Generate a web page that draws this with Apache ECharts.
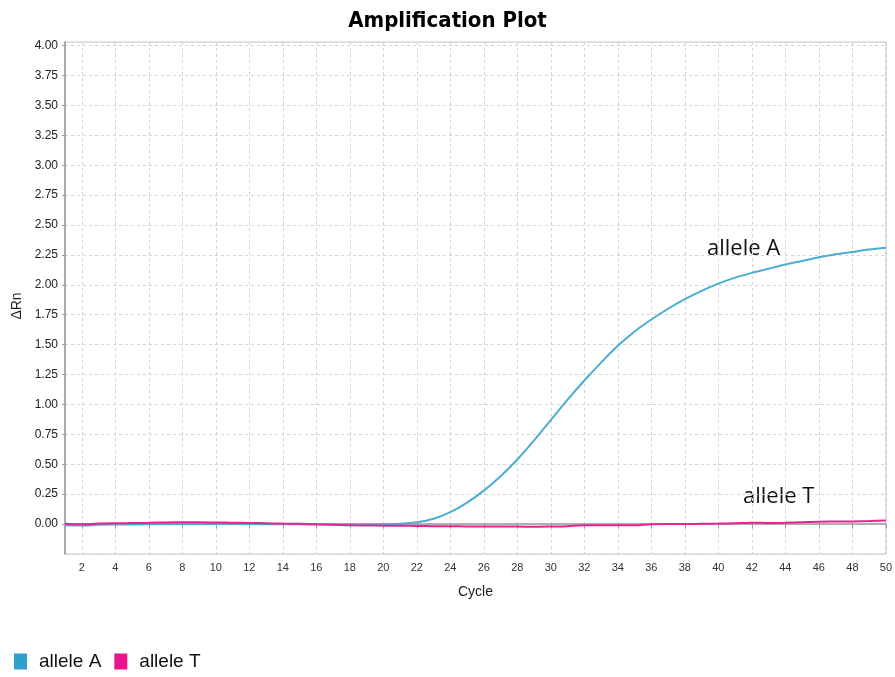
<!DOCTYPE html>
<html><head><meta charset="utf-8">
<script src="https://cdn.jsdelivr.net/npm/echarts@6/dist/echarts.min.js"></script>
<style>html,body{margin:0;padding:0;background:#fff}#c{width:895px;height:677px}</style>
</head><body><div id="c"></div>
<script>
const cycles = [];
for (let i = 1; i <= 50; i++) cycles.push(String(i));
const alleleA = [-0.010,-0.012,-0.006,-0.004,-0.003,-0.002,0.000,0.000,0.000,0.000,
  0.000,0.000,-0.001,-0.002,-0.002,-0.003,-0.004,-0.004,-0.003,-0.002,
  0.003,0.015,0.045,0.100,0.180,0.280,0.400,0.540,0.700,0.870,
  1.040,1.200,1.350,1.490,1.610,1.710,1.800,1.880,1.950,2.010,
  2.060,2.100,2.135,2.170,2.200,2.230,2.255,2.275,2.295,2.310];
const alleleT = [0.003,-0.002,0.004,0.007,0.009,0.011,0.014,0.015,0.015,0.013,
  0.012,0.010,0.007,0.004,0.002,-0.002,-0.005,-0.010,-0.012,-0.013,
  -0.014,-0.015,-0.017,-0.018,-0.020,-0.021,-0.021,-0.021,-0.022,-0.020,
  -0.017,-0.010,-0.010,-0.010,-0.010,-0.002,0.000,0.000,0.002,0.004,
  0.008,0.012,0.010,0.012,0.016,0.020,0.021,0.022,0.025,0.030];
const seriesNames = ['allele A', 'allele T'];
const lineColors = ['#4aaed2', '#e8238f'];
const legendColors = ['#2f9fcb', '#ec148c'];
const yMin = -0.25, yMax = 4.03, yStep = 0.25;

const even = (idx) => idx % 2 === 1;
const chart = echarts.init(document.getElementById('c'));
chart.setOption({
  animation: false,
  title: {
    text: 'Amplification Plot', left: 'center', top: 5,
    textStyle: { fontFamily: '"DejaVu Sans Condensed","DejaVu Sans"', fontWeight: 'bold', fontSize: 22, color: '#000' }
  },
  grid: { left: 65, right: 7, top: 42, bottom: 123, show: true, borderColor: '#c4c4c4', borderWidth: 1 },
  legend: {
    left: 14, top: 652, padding: 0, itemWidth: 13, itemHeight: 16, itemGap: 13, icon: 'rect',
    textStyle: { fontFamily: '"Liberation Sans",Arial', fontSize: 19, color: '#111', padding: [0, 0, 0, 7] },
    data: seriesNames.map((n, i) => ({ name: n, itemStyle: { color: legendColors[i] } }))
  },
  xAxis: {
    type: 'category', data: cycles, boundaryGap: false,
    name: 'Cycle', nameLocation: 'middle', nameGap: 31,
    nameTextStyle: { fontFamily: '"Liberation Sans",Arial', fontSize: 14, color: '#222' },
    axisLine: { lineStyle: { color: '#999', width: 1.5 } },
    axisTick: { interval: even, length: 4, lineStyle: { color: '#999' } },
    axisLabel: { interval: even, fontFamily: '"Liberation Sans",Arial', fontSize: 11, color: '#333', margin: 8 },
    splitLine: { show: true, interval: even, lineStyle: { color: '#d4d4d4', type: [3, 3] } }
  },
  yAxis: {
    type: 'value', min: yMin, max: yMax, interval: yStep,
    name: 'ΔRn', nameLocation: 'middle', nameGap: 41, nameRotate: 90,
    nameTextStyle: { fontFamily: '"Liberation Sans",Arial', fontSize: 14, color: '#222', padding: [0, 16, 0, 0] },
    axisLine: { show: true, lineStyle: { color: '#999', width: 1.5 } },
    axisTick: { show: true, length: 3, lineStyle: { color: '#999' } },
    axisLabel: { showMinLabel: false, showMaxLabel: false, fontFamily: '"Liberation Sans",Arial', fontSize: 12, color: '#222', margin: 7,
      formatter: v => v.toFixed(2) },
    splitLine: { show: true, lineStyle: { color: '#d4d4d4', type: [3, 3] } }
  },
  graphic: [
    { type: 'text', left: 707, top: 238, style: { text: 'allele A', font: '22px "Open Sans"', fill: '#111' } },
    { type: 'text', left: 743, top: 486, style: { text: 'allele T', font: '22px "Open Sans"', fill: '#111' } }
  ],
  series: [
    { name: seriesNames[0], type: 'line', data: alleleA, smooth: 0.3, showSymbol: false, symbol: 'none',
      itemStyle: { color: lineColors[0] }, lineStyle: { color: lineColors[0], width: 2 } },
    { name: seriesNames[1], type: 'line', data: alleleT, smooth: 0.3, showSymbol: false, symbol: 'none',
      itemStyle: { color: lineColors[1] }, lineStyle: { color: lineColors[1], width: 2 } }
  ]
});
</script></body></html>
